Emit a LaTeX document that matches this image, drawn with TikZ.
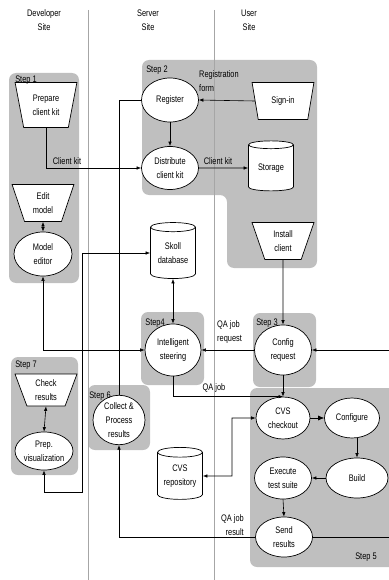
\documentclass[tikz,border=0pt]{standalone}
\usepackage{fontspec}
\setmainfont{Liberation Sans}[FakeStretch=0.78]
\usetikzlibrary{arrows.meta,shapes.geometric,backgrounds}

\begin{document}
\begin{tikzpicture}[x=1pt, y=-1pt,
  font=\fontsize{9.5}{14}\selectfont,
  panel/.style={fill=black!25, rounded corners=7pt},
  steptag/.style={font=\fontsize{9.5}{10}\selectfont, inner sep=0pt},
  note/.style={inner sep=0pt, align=left},
  task/.style={ellipse, draw=black, fill=white, line width=0.7pt, inner sep=0pt,
    align=center, minimum width=57, minimum height=43},
  entry/.style={trapezium, shape border rotate=180, trapezium stretches=true,
    trapezium left angle=72, trapezium right angle=72, draw=black, fill=white,
    line width=0.7pt, inner sep=0pt, align=center, minimum width=62, minimum height=37},
  store/.style={cylinder, shape border rotate=90, aspect=0.3, draw=black, fill=white,
    line width=0.7pt, inner sep=0pt, align=center, minimum width=45, minimum height=52},
  flow/.style={-{Latex[length=4.5pt,width=3.5pt]}, line width=0.6pt},
  twoway/.style={{Latex[length=4.5pt,width=3.5pt]}-{Latex[length=4.5pt,width=3.5pt]}, line width=0.6pt},
  divider/.style={draw=black!35, line width=0.6pt}
]
  \useasboundingbox (0,0) rectangle (388,580);

  % site headings
  \node[align=center] (devsite) at (44,20) {Developer\\Site};
  \node[align=center] (serversite) at (148,20) {Server\\Site};
  \node[align=center] (usersite) at (249,20) {User\\Site};

  % developer site
  \node[entry, minimum height=45, trapezium left angle=76, trapezium right angle=76]
    (prepkit) at (46,105) {Prepare\\client kit};
  \node[entry] (editmodel) at (43,203) {Edit\\model};
  \node[task, minimum width=58, minimum height=44] (modeleditor) at (43,254) {Model\\editor};
  \node[entry, minimum height=32] (checkres) at (46,390) {Check\\results};
  \node[task, minimum width=58, minimum height=38] (prepvis) at (44,451) {Prep.\\visualization};

  % server site
  \node[task, minimum height=44] (register) at (170,100) {Register};
  \node[task] (distkit) at (170,168) {Distribute\\client kit};
  \node[store, minimum height=56] (skolldb) at (173,253) {Skoll\\database};
  \node[task, minimum width=56, minimum height=52] (steering) at (173,350) {Intelligent\\steering};
  \node[task, minimum width=52, minimum height=46] (collect) at (119,420) {Collect \&\\Process\\results};
  \node[store] (cvsrepo) at (180,476) {CVS\\repository};

  % user site
  \node[entry] (signin) at (283,101) {Sign-in};
  \node[store, minimum height=50] (storage) at (271,168) {Storage};
  \node[entry] (install) at (283,241) {Install\\client};
  \node[task, minimum height=50] (configreq) at (283,350) {Config\\request};
  \node[task, minimum width=54, minimum height=42] (cvscheck) at (283,418) {CVS\\checkout};
  \node[task, minimum width=55, minimum height=40] (configure) at (352,418) {Configure};
  \node[task, minimum width=62, minimum height=40] (build) at (357,478) {Build};
  \node[task, minimum height=42] (runtests) at (283,478) {Execute\\test suite};
  \node[task, minimum height=40] (sendres) at (284,537) {Send\\results};

  \coordinate (skollturn) at (82,492);
  \coordinate (repoturn) at (232,476);
  \coordinate (rightturn) at (396,350);

  \draw[flow] (prepkit.south) |- (distkit.west);
  \draw[flow] (signin.west) -- (register.east);
  \draw[flow] (register.south) -- (distkit.north);
  \draw[flow] (distkit.east) -- (storage.west);
  \draw[line width=0.6pt] (register.west) -| (collect.north);
  \draw[twoway] (editmodel.south) -- (modeleditor.north);
  \draw[twoway] (skolldb.west) -| (skollturn) -| (prepvis.south);
  \draw[twoway] (skolldb.south) -- (steering.north);
  \draw[twoway] (modeleditor.south) |- (steering.west);
  \draw[flow] (install.south) -- (configreq.north);
  \draw[flow] (configreq.west) -- (steering.east);
  \draw[flow] (sendres.east) -| (rightturn) -- (configreq.east);
  \draw[flow] (steering.south) |- (cvscheck.north);
  \draw[flow] (configreq.south) -- (cvscheck.north);
  \draw[-{Latex[length=6pt,width=5pt]}, line width=0.6pt] (cvscheck.east) -- (configure.west);
  \draw[flow] (configure.south -| build.north) -- (build.north);
  \draw[flow] (build.west) -- (runtests.east);
  \draw[flow] (runtests.south) -- (sendres.north);
  \draw[flow] (sendres.west) -| (collect.south);
  \draw[twoway] (cvsrepo.east) -- (repoturn) |- (cvscheck.west);
  \draw[twoway] (checkres.south) -- (prepvis.north);

  % connector labels
  \node[note] (kitlabelA) at (67,161) {Client kit};
  \node[note] (kitlabelB) at (218,161) {Client kit};
  \node[note, anchor=north west] (reglabel) at (199,70) {Registration\\form};
  \node[note, anchor=west] (reqlabel) at (217,332) {QA job\\request};
  \node[note] (joblabel) at (214,388) {QA job};
  \node[note, align=right, anchor=east] (resultlabel) at (244,525) {QA job\\result};

  \begin{scope}[on background layer]
    \fill[panel] (9,73) rectangle (79,283);
    \fill[panel] (142,60) -- (317,60) -- (317,268) -- (227,268) -- (227,195)
      -- (142,195) -- cycle;
    \fill[panel] (141,312) rectangle (204,385);
    \fill[panel] (253,313) rectangle (316,387);
    \fill[panel] (250,388) rectangle (398,567);
    \fill[panel] (88,385) rectangle (150,450);
    \fill[panel] (11,357) rectangle (78,475);
    \draw[divider] (88,10) -- (88,580);
    \draw[divider] (214,10) -- (214,580);
  \end{scope}

  % step tags
  \node[steptag] (tag1) at (26,80) {Step 1};
  \node[steptag] (tag2) at (157,70) {Step 2};
  \node[steptag] (tag4) at (155,323) {Step4};
  \node[steptag] (tag3) at (267,323) {Step 3};
  \node[steptag] (tag7) at (26,365) {Step 7};
  \node[steptag] (tag6) at (100,396) {Step 6};
  \node[steptag] (tag5) at (366,557) {Step 5};
\end{tikzpicture}
\end{document}
